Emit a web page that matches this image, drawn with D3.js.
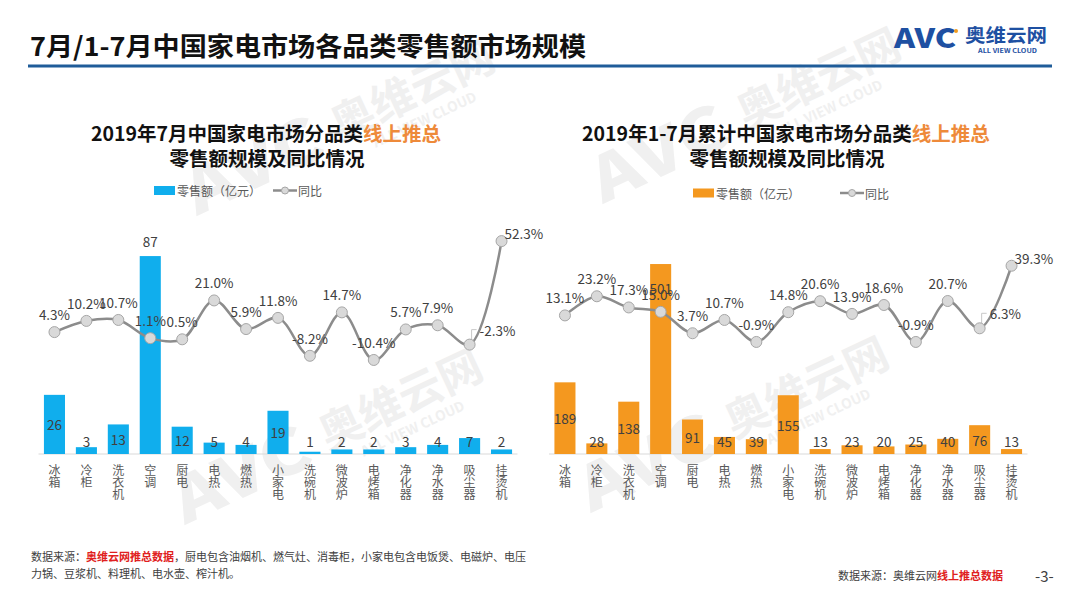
<!DOCTYPE html>
<html>
<head>
<meta charset="utf-8">
<script src="https://cdn.jsdelivr.net/npm/d3@7"></script>
<style>
  body { margin: 0; background: #fff; }
  text { font-family: "Noto Sans CJK SC", "Noto Sans", sans-serif; }
</style>
</head>
<body>
<div id="chart"></div>
<script>
// Data
let categories = ["冰箱", "冷柜", "洗衣机", "空调", "厨电", "电热", "燃热", "小家电", "洗碗机", "微波炉", "电烤箱", "净化器", "净水器", "吸尘器", "挂烫机"];
let julySales = [26, 3, 13, 87, 12, 5, 4, 19, 1, 2, 2, 3, 4, 7, 2];
let julyGrowth = [4.3, 10.2, 10.7, 1.1, 0.5, 21.0, 5.9, 11.8, -8.2, 14.7, -10.4, 5.7, 7.9, -2.3, 52.3];
let ytdSales = [189, 28, 138, 501, 91, 45, 39, 155, 13, 23, 20, 25, 40, 76, 13];
let ytdGrowth = [13.1, 23.2, 17.3, 15.0, 3.7, 10.7, -0.9, 14.8, 20.6, 13.9, 18.6, -0.9, 20.7, 6.3, 39.3];
let julySalesDomain = [0, 100];
let ytdSalesDomain = [0, 600];
let growthDomain = [-60, 60];

let svg = d3.select("#chart").append("svg")
    .attr("width", 1080)
    .attr("height", 608)
    .style("display", "block");

svg.append("rect").attr("width", 1080).attr("height", 608).attr("fill", "#fff");

// Watermarks
function watermark(tx, ty) {
    let g = svg.append("g")
        .attr("transform", `translate(${tx},${ty}) rotate(-25) scale(2.3)`)
        .attr("fill", "#f0f0f0");
    g.append("text").attr("x", 0).attr("y", 0)
        .attr("font-size", 27).attr("font-weight", 900)
        .attr("textLength", 63).attr("lengthAdjust", "spacingAndGlyphs")
        .text("AVC");
    g.append("text").attr("x", 70).attr("y", -3)
        .attr("font-size", 19).attr("font-weight", 700)
        .text("奥维云网");
    g.append("text").attr("x", 83).attr("y", 6)
        .attr("font-size", 6).attr("font-weight", 700)
        .text("ALL VIEW CLOUD");
}
watermark(197, 216);
watermark(185, 525);
watermark(603, 204);
watermark(591, 513);

// Header
svg.append("text")
    .attr("x", 30).attr("y", 56)
    .attr("font-size", 26).attr("font-weight", 700)
    .attr("fill", "#111")
    .attr("textLength", 556).attr("lengthAdjust", "spacingAndGlyphs")
    .text("7月/1-7月中国家电市场各品类零售额市场规模");

svg.append("line")
    .attr("x1", 28).attr("x2", 1052)
    .attr("y1", 66).attr("y2", 66)
    .attr("stroke", "#1f5c99").attr("stroke-width", 3);

// Logo
let logo = svg.append("g").attr("fill", "#1e50a2");
logo.append("text").attr("x", 894).attr("y", 48)
    .attr("font-size", 27).attr("font-weight", 900)
    .attr("textLength", 62).attr("lengthAdjust", "spacingAndGlyphs")
    .text("AVC");
logo.append("circle").attr("cx", 956).attr("cy", 31).attr("r", 2).attr("fill", "#f39c1f");
logo.append("text").attr("x", 965).attr("y", 42)
    .attr("font-size", 18).attr("font-weight", 700)
    .attr("textLength", 82).attr("lengthAdjust", "spacingAndGlyphs")
    .text("奥维云网");
logo.append("text").attr("x", 978).attr("y", 53)
    .attr("font-size", 5.5).attr("font-weight", 700)
    .attr("textLength", 59).attr("lengthAdjust", "spacingAndGlyphs")
    .text("ALL VIEW CLOUD");

let pct = d => d.toFixed(1) + "%";

// Charts
function drawChart(opt) {
    let n = categories.length;
    let x = d3.scaleBand()
        .domain(categories)
        .range([opt.x0, opt.x1])
        .paddingInner(0.34)
        .paddingOuter(0.17);
    let y = d3.scaleLinear().domain(opt.salesDomain).range([454, 226.5]);
    let y2 = d3.scaleLinear().domain(growthDomain).range([454, 226.5]);
    let cx = c => x(c) + x.bandwidth() / 2;

    let g = svg.append("g");

    // title
    let t1 = g.append("text").attr("x", opt.titleX).attr("y", 141)
        .attr("text-anchor", "middle").attr("font-size", 19.5).attr("font-weight", 700).attr("fill", "#111");
    t1.append("tspan").text(opt.title);
    t1.append("tspan").attr("fill", "#ee8a3a").text("线上推总");
    g.append("text").attr("x", opt.titleX + 1).attr("y", 166)
        .attr("text-anchor", "middle").attr("font-size", 19.5).attr("font-weight", 700).attr("fill", "#111")
        .text("零售额规模及同比情况");

    // legend
    let ly = opt.legendY;
    g.append("rect").attr("x", opt.legendX).attr("y", ly - 4.5)
        .attr("width", 21).attr("height", 9).attr("fill", opt.color);
    g.append("text").attr("x", opt.legendX + 23).attr("y", ly)
        .attr("dominant-baseline", "central").attr("font-size", 12).attr("fill", "#595959")
        .text("零售额（亿元）");
    let lx = opt.legendX + opt.legendGap;
    g.append("line").attr("x1", lx).attr("x2", lx + 24).attr("y1", ly).attr("y2", ly)
        .attr("stroke", "#8c8c8c").attr("stroke-width", 2.5);
    g.append("circle").attr("cx", lx + 12).attr("cy", ly).attr("r", 3.5)
        .attr("fill", "#d9d9d9").attr("stroke", "#a6a6a6");
    g.append("text").attr("x", lx + 25).attr("y", ly)
        .attr("dominant-baseline", "central").attr("font-size", 12).attr("fill", "#595959")
        .text("同比");

    // baseline
    g.append("line").attr("x1", opt.x0).attr("x2", opt.x1)
        .attr("y1", y(0)).attr("y2", y(0))
        .attr("stroke", "#d9d9d9").attr("stroke-width", 1);

    // bars
    g.selectAll(".bar").data(opt.sales).join("rect")
        .attr("class", "bar")
        .attr("x", (d, i) => x(categories[i]))
        .attr("width", x.bandwidth())
        .attr("y", d => y(d))
        .attr("height", d => y(0) - y(d))
        .attr("fill", opt.color);

    // category labels, written top to bottom
    g.selectAll(".cat").data(categories).join("text")
        .attr("class", "cat")
        .attr("x", d => cx(d))
        .attr("y", 464)
        .style("writing-mode", "vertical-rl")
        .attr("font-size", 12)
        .attr("fill", "#595959")
        .text(d => d);

    // line
    let pts = opt.growth.map((d, i) => [cx(categories[i]), y2(d)]);
    g.append("path")
        .attr("d", d3.line().curve(d3.curveCatmullRom)(pts))
        .attr("fill", "none")
        .attr("stroke", "#8c8c8c")
        .attr("stroke-width", 2.5);

    // bar value labels
    let maxV = d3.max(opt.sales);
    g.selectAll(".blab").data(opt.sales).join("text")
        .attr("class", "blab")
        .attr("x", (d, i) => cx(categories[i]))
        .attr("y", d => {
            if (d === maxV) return opt.maxInside ? y(d) + 24 : y(d) - 15;
            return Math.min((y(d) + y(0)) / 2, 441);
        })
        .attr("text-anchor", "middle")
        .attr("dominant-baseline", "central")
        .attr("font-size", 13.5)
        .attr("fill", "#404040")
        .text(d => d);

    // leader line of the second-last label
    let p = pts[n - 2];
    g.append("path")
        .attr("d", `M${p[0] + 2},${p[1] - 4}V${p[1] - 15}h5`)
        .attr("fill", "none").attr("stroke", "#c8c8c8").attr("stroke-width", 1);

    // markers
    g.selectAll(".dot").data(pts).join("circle")
        .attr("class", "dot")
        .attr("cx", d => d[0]).attr("cy", d => d[1]).attr("r", 5.5)
        .attr("fill", "#d9d9d9").attr("stroke", "#a6a6a6").attr("stroke-width", 1);

    // growth labels
    g.selectAll(".glab").data(opt.growth).join("text")
        .attr("class", "glab")
        .attr("x", (d, i) => pts[i][0] + (i === n - 2 ? 10 : i === n - 1 ? 3 : 0))
        .attr("y", (d, i) => pts[i][1] + (i === n - 2 ? -15 : i === n - 1 ? -8 : -18))
        .attr("text-anchor", (d, i) => i >= n - 2 ? "start" : "middle")
        .attr("dominant-baseline", "central")
        .attr("font-size", 13.5)
        .attr("fill", "#404040")
        .text(pct);
}

drawChart({
    x0: 38.5, x1: 517.5,
    color: "#10aeed",
    sales: julySales, growth: julyGrowth,
    salesDomain: julySalesDomain,
    title: "2019年7月中国家电市场分品类",
    titleX: 266,
    legendX: 154, legendGap: 119, legendY: 190.5,
    maxInside: false
});

drawChart({
    x0: 549, x1: 1027.5,
    color: "#f4981f",
    sales: ytdSales, growth: ytdGrowth,
    salesDomain: ytdSalesDomain,
    title: "2019年1-7月累计中国家电市场分品类",
    titleX: 786,
    legendX: 693, legendGap: 147, legendY: 193,
    maxInside: true
});

// Footnotes
let f1 = svg.append("text").attr("x", 31).attr("y", 561).attr("font-size", 11).attr("fill", "#404040");
f1.append("tspan").text("数据来源：");
f1.append("tspan").attr("fill", "#e02020").attr("font-weight", 700).text("奥维云网推总数据");
f1.append("tspan").text("，厨电包含油烟机、燃气灶、消毒柜，小家电包含电饭煲、电磁炉、电压");
svg.append("text").attr("x", 31).attr("y", 578).attr("font-size", 11).attr("fill", "#404040")
    .text("力锅、豆浆机、料理机、电水壶、榨汁机。");

let f2 = svg.append("text").attr("x", 838).attr("y", 580).attr("font-size", 11).attr("fill", "#404040");
f2.append("tspan").text("数据来源：奥维云网");
f2.append("tspan").attr("fill", "#e02020").attr("font-weight", 700).text("线上推总数据");

svg.append("text").attr("x", 1035).attr("y", 582).attr("font-size", 15).attr("fill", "#404040")
    .text("-3-");
</script>
</body>
</html>
